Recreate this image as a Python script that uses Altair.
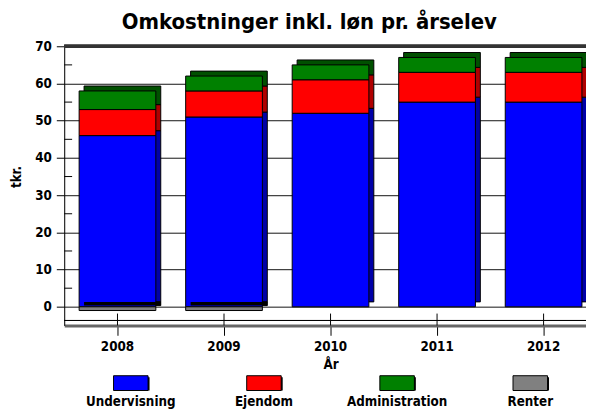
import altair as alt
import pandas as pd

# ---- data ----
years = ["2008", "2009", "2010", "2011", "2012"]
categories = ["Undervisning", "Ejendom", "Administration", "Renter"]
undervisning = [46, 51, 52, 55, 55]
ejendom = [7, 7, 9, 8, 8]
administration = [5, 4, 4, 4, 4]
renter = [-1, -1, 0, 0, 0]
y_ticks = [0, 10, 20, 30, 40, 50, 60, 70]
minor_ticks = [5, 15, 25, 35, 45, 55, 65]

front_colors = ["#0000FF", "#FF0000", "#008000", "#808080"]
side_colors = ["#0000A8", "#B00000", "#005000", "#000000"]

series = [undervisning, ejendom, administration, renter]
rows = []
for ci, (cat, vals) in enumerate(zip(categories, series)):
    for yr, v in zip(years, vals):
        if v != 0:
            rows.append({"year": yr, "kategori": cat, "tkr": v, "orden": ci})
df = pd.DataFrame(rows)
leg_df = pd.DataFrame({"kategori": categories})
minor_df = pd.DataFrame({"tkr": minor_ticks})
year_df = pd.DataFrame({"year": years})

W, H = 529, 283
RANGE = [0, 540]
FONT = "DejaVu Sans Condensed"
FS = 13.5

xscale = alt.Scale(domain=years, range=RANGE, paddingInner=0.28, paddingOuter=0.14)
yscale = alt.Scale(domain=[-5, 70], nice=False, zero=False)

x_axis = alt.Axis(
    labelFont=FONT, labelFontSize=FS, labelFontWeight="bold", labelColor="black",
    labelAngle=0, labelPadding=4, tickSize=10, tickColor="black",
    domainColor="#666666", domainWidth=3,
    titleFont=FONT, titleFontSize=FS, titleFontWeight="bold", titleColor="black",
    titlePadding=5,
)
y_axis = alt.Axis(
    values=y_ticks, labelFont=FONT, labelFontSize=FS, labelFontWeight="bold",
    labelColor="black", labelPadding=5, tickSize=8, tickColor="black",
    domainColor="black", domainWidth=1, grid=True, gridColor="#111111",
    gridWidth=1, gridOpacity=1,
    titleFont=FONT, titleFontSize=FS, titleFontWeight="bold", titleColor="black",
    titleX=-41, titleY=132,
)


def xenc(axis=None):
    return alt.X("year:N", sort=years, scale=xscale, axis=axis, title="År")


def yenc(stack=True):
    if stack:
        return alt.Y("tkr:Q", stack="zero", scale=yscale, axis=y_axis, title="tkr.")
    return alt.Y("tkr:Q", scale=yscale, axis=y_axis, title="tkr.")


base = alt.Chart(df)
order = alt.Order("orden:Q")

depth = base.mark_bar(xOffset=5, yOffset=-5, stroke="black", strokeWidth=1).encode(
    x=xenc(x_axis), y=yenc(),
    color=alt.Color("kategori:N", scale=alt.Scale(domain=categories, range=side_colors), legend=None),
    order=order,
)
front = base.mark_bar(stroke="black", strokeWidth=1).encode(
    x=xenc(), y=yenc(),
    color=alt.Color("kategori:N", scale=alt.Scale(domain=categories, range=front_colors), legend=None),
    order=order,
)
renter_top = base.transform_filter(alt.datum.kategori == "Renter").mark_bar(
    xOffset=5, yOffset=-5, color="black").encode(x=xenc(), y=yenc())

minor = alt.Chart(minor_df).mark_rule(color="black").encode(
    y=yenc(stack=False), x=alt.value(0), x2=alt.value(8))
inner_ticks = alt.Chart(year_df).mark_rule(color="black").encode(
    x=alt.X("year:N", sort=years, scale=xscale, axis=None, bandPosition=0.5),
    y=alt.value(H - 12), y2=alt.value(H))
floor = alt.Chart(year_df).mark_rule(color="black").encode(
    x=alt.value(0), x2=alt.value(W), y=alt.value(H - 5))
top_frame = alt.Chart(year_df).mark_rule(color="#333333", strokeWidth=3).encode(
    x=alt.value(0), x2=alt.value(W), y=alt.value(0))

leg_scale = alt.Scale(domain=categories, range=RANGE, paddingInner=0, paddingOuter=0)
leg_x = alt.X("kategori:N", sort=categories, scale=leg_scale, axis=None)
leg_shadow = alt.Chart(leg_df).mark_bar(width=35, color="black", xOffset=1.5, yOffset=1.5).encode(
    x=leg_x, y=alt.value(334), y2=alt.value(349))
leg_box = alt.Chart(leg_df).mark_bar(width=35, stroke="black", strokeWidth=1).encode(
    x=leg_x, y=alt.value(334), y2=alt.value(349),
    color=alt.Color("kategori:N", scale=alt.Scale(domain=categories, range=front_colors), legend=None))
leg_text = alt.Chart(leg_df).mark_text(
    baseline="top", align="center", font=FONT, fontSize=FS, fontWeight="bold", color="black"
).encode(x=alt.X("kategori:N", sort=categories, scale=leg_scale, axis=None, bandPosition=0.5),
         y=alt.value(354), text="kategori:N")

chart = alt.layer(
    depth, front, renter_top, minor, inner_ticks, floor, top_frame,
    leg_shadow, leg_box, leg_text,
).resolve_scale(
    x="independent", color="independent"
).properties(
    width=W, height=H,
    title=alt.TitleParams("Omkostninger inkl. løn pr. årselev", font=FONT, fontSize=22.2,
                          fontWeight="bold", anchor="middle", dx=-16, offset=6, color="black"),
    autosize=alt.AutoSizeParams(type="none"),
    padding={"left": 57, "top": 36, "right": 0, "bottom": 87},
).configure_view(stroke=None).configure(background="white")

chart.save("out.html", embed_options={"renderer": "svg", "actions": False})
